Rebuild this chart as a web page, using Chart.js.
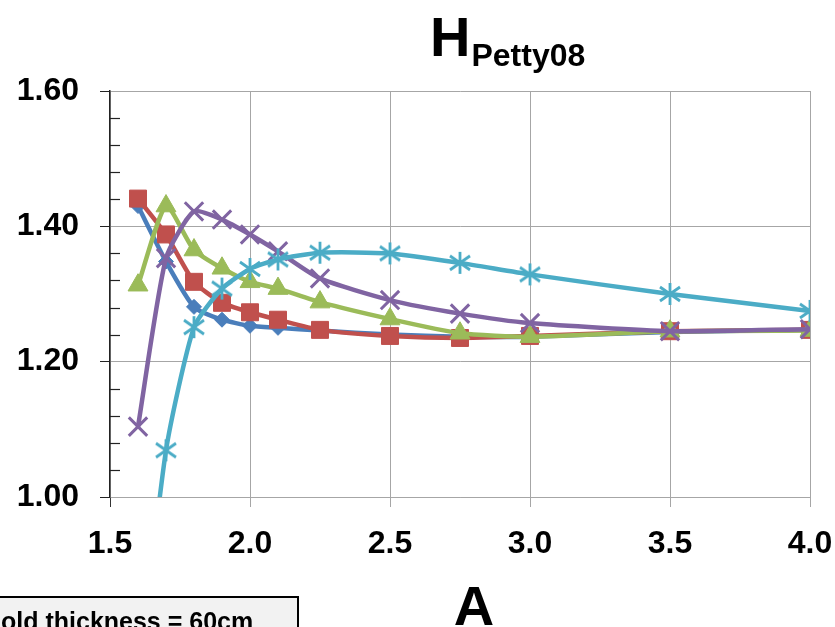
<!DOCTYPE html>
<html>
<head>
<meta charset="utf-8">
<script src="https://cdn.jsdelivr.net/npm/chart.js@4.4.0/dist/chart.umd.min.js"></script>
<style>
  html, body { margin: 0; padding: 0; background: #fff; }
  #wrap { width: 835px; height: 627px; position: relative; overflow: hidden; }
</style>
</head>
<body>
<div id="wrap"><canvas id="chart" width="835" height="627"></canvas></div>
<script>
// H Petty08 against A, five series
const aValues = [1.6, 1.7, 1.8, 1.9, 2.0, 2.1, 2.25, 2.5, 2.75, 3.0, 3.5, 4.0];
const blueValues = [1.430, 1.348, 1.281, 1.262, 1.253, 1.250, 1.246, 1.240, 1.237, 1.237, 1.244, 1.247];
const redValues = [1.441, 1.388, 1.318, 1.287, 1.273, 1.262, 1.247, 1.238, 1.235, 1.238, 1.245, 1.247];
const greenValues = [1.313, 1.430, 1.365, 1.338, 1.318, 1.308, 1.288, 1.263, 1.242, 1.237, 1.245, 1.246];
const purpleValues = [1.104, 1.353, 1.422, 1.410, 1.388, 1.363, 1.323, 1.291, 1.271, 1.257, 1.245, 1.248];
const cyanValues = [0.72, 1.069, 1.251, 1.308, 1.337, 1.351, 1.361, 1.360, 1.346, 1.329, 1.300, 1.275];

const xTickValues = [1.5, 2.0, 2.5, 3.0, 3.5, 4.0];
const yTickValues = [1.00, 1.20, 1.40, 1.60];
const yMinorStep = 0.04;

const titleMain = 'H';
const titleSub = 'Petty08';
const xTitle = 'A';
const noteText = 'old thickness = 60cm';

const FONT = "'Liberation Sans', Arial, sans-serif";

function makeAsterisk(color) {
    const c = document.createElement('canvas');
    c.width = 24;
    c.height = 24;
    const g = c.getContext('2d');
    g.strokeStyle = color;
    g.lineWidth = 2.8;
    g.lineCap = 'butt';
    g.beginPath();
    g.moveTo(12, 1); g.lineTo(12, 23);
    g.moveTo(2, 5); g.lineTo(22, 19);
    g.moveTo(22, 5); g.lineTo(2, 19);
    g.stroke();
    return c;
}

function toPoints(values) {
    return aValues.map((a, i) => ({ x: a, y: values[i] }));
}

function series(values, color, style, radius, order, extra) {
    return Object.assign({
        data: toPoints(values),
        borderColor: color,
        backgroundColor: color,
        pointBackgroundColor: color,
        pointBorderColor: color,
        pointStyle: style,
        pointRadius: radius,
        pointBorderWidth: 1,
        borderWidth: 4.5,
        tension: 0.2,
        order: order
    }, extra || {});
}

const decorations = {
    id: 'decorations',
    beforeDatasetsDraw(chart) {
        const ctx = chart.ctx;
        const y = chart.scales.y;
        const left = chart.chartArea.left;
        ctx.save();
        ctx.strokeStyle = '#222';
        ctx.lineWidth = 1.2;
        for (let v = y.min; v <= y.max + 1e-9; v += yMinorStep) {
            const r = Math.round(v * 100) / 100;
            if (yTickValues.some(t => Math.abs(t - r) < 1e-6)) continue;
            const py = Math.round(y.getPixelForValue(r)) + 0.5;
            ctx.beginPath();
            ctx.moveTo(left, py);
            ctx.lineTo(left + 10, py);
            ctx.stroke();
        }
        ctx.restore();
    },
    afterDraw(chart) {
        const ctx = chart.ctx;
        ctx.save();
        ctx.fillStyle = '#000';
        ctx.textBaseline = 'alphabetic';
        ctx.textAlign = 'left';
        ctx.font = 'bold 56px ' + FONT;
        ctx.fillText(titleMain, 430, 56);
        const w = ctx.measureText(titleMain).width;
        ctx.font = 'bold 32px ' + FONT;
        ctx.fillText(titleSub, 430 + w + 1, 66);

        ctx.textAlign = 'center';
        ctx.font = 'bold 56px ' + FONT;
        ctx.fillText(xTitle, 474, 625);

        // note box, cut off by the page edge
        ctx.fillStyle = '#f2f2f2';
        ctx.fillRect(-4, 597, 302, 40);
        ctx.strokeStyle = '#000';
        ctx.lineWidth = 2;
        ctx.strokeRect(-4, 597, 302, 40);
        ctx.fillStyle = '#000';
        ctx.textAlign = 'left';
        ctx.font = 'bold 25px ' + FONT;
        ctx.fillText(noteText, 1, 630);
        ctx.restore();
    }
};

const ctx = document.getElementById('chart').getContext('2d');
new Chart(ctx, {
    type: 'line',
    data: {
        datasets: [
            series(blueValues, '#4a7ebb', 'rectRot', 7.5, 5),
            series(redValues, '#c0504d', 'rect', 12, 4),
            series(greenValues, '#9bbb59', 'triangle', 11.5, 3),
            series(purpleValues, '#8064a2', 'crossRot', 13, 2, { pointBorderWidth: 3 }),
            series(cyanValues, '#4bacc6', makeAsterisk('#4bacc6'), 12, 1)
        ]
    },
    options: {
        responsive: false,
        animation: false,
        events: [],
        layout: { padding: { top: 91, right: 25, left: 0, bottom: 0 } },
        elements: { line: { capBezierPoints: false } },
        plugins: {
            legend: { display: false },
            tooltip: { enabled: false },
            title: { display: false }
        },
        scales: {
            x: {
                type: 'linear',
                min: 1.5,
                max: 4.0,
                afterBuildTicks: s => { s.ticks = xTickValues.map(v => ({ value: v })); },
                afterFit: s => { s.height = 130; s.paddingRight = 0; s.paddingLeft = 0; },
                grid: {
                    color: '#a6a6a6',
                    lineWidth: 1,
                    tickLength: 10,
                    tickColor: c => (c.tick && c.tick.value === 1.5 ? '#333' : '#a6a6a6')
                },
                border: { color: '#a6a6a6', width: 1 },
                ticks: {
                    color: '#000',
                    padding: 18,
                    maxRotation: 0,
                    font: { family: FONT, size: 32, weight: 'bold' },
                    callback: v => Number(v).toFixed(1)
                }
            },
            y: {
                min: 1.0,
                max: 1.6,
                afterBuildTicks: s => { s.ticks = yTickValues.map(v => ({ value: v })); },
                afterFit: s => { s.width = 110; },
                grid: {
                    color: '#a6a6a6',
                    lineWidth: 1,
                    tickLength: 10,
                    tickColor: '#222'
                },
                border: { color: '#222', width: 1.5 },
                ticks: {
                    color: '#000',
                    padding: 21,
                    font: { family: FONT, size: 32, weight: 'bold' },
                    callback: v => Number(v).toFixed(2)
                }
            }
        }
    },
    plugins: [decorations]
});
</script>
</body>
</html>
